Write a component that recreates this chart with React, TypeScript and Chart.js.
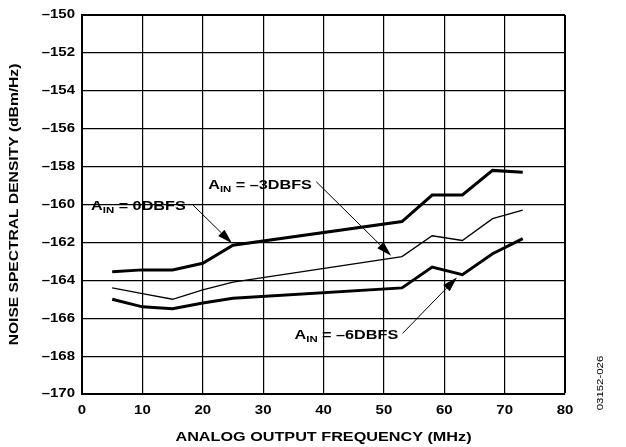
import React, { useEffect, useRef } from "react";
import { Chart, registerables } from "chart.js";

Chart.register(...registerables);

const freqMHz = [5, 10, 15, 20, 25, 53, 58, 63, 68, 73];
const nsd0dBFS = [-163.55, -163.45, -163.45, -163.1, -162.15, -160.9, -159.5, -159.5, -158.2, -158.3];
const nsd3dBFS = [-164.4, -164.7, -165.0, -164.5, -164.1, -162.75, -161.65, -161.9, -160.75, -160.3];
const nsd6dBFS = [-165.0, -165.4, -165.5, -165.2, -164.95, -164.4, -163.3, -163.7, -162.6, -161.8];

const xTitle = "ANALOG OUTPUT FREQUENCY (MHz)";
const yTitle = "NOISE SPECTRAL DENSITY (dBm/Hz)";
const figureId = "03152-026";

// annotation labels and their anchor/arrow positions in data units
const annLabels = ["= 0DBFS", "= \u20133DBFS", "= \u20136DBFS"];
const annTextX = [1.5, 20.9, 35.2];
const annTextY = [-160.05, -158.9, -166.85];
const annFromX = [18.3, 38.8, 53.1];
const annFromY = [-160.0, -158.8, -166.8];
const annToX = [24.85, 51.2, 62.1];
const annToY = [-162.05, -162.7, -163.85];

const FONT = "'Liberation Sans', Arial, Helvetica, sans-serif";
const TEXT_STRETCH = 1.2;

// widen glyphs along the text direction (the reference uses a wide bold face)
const stretchPlugin = {
  id: "stretchText",
  beforeDraw(chart: any) {
    const ctx = chart.ctx;
    if (ctx.__stretched) return;
    ctx.__stretched = true;
    const proto = CanvasRenderingContext2D.prototype;
    ctx.fillText = function (text: string, x: number, y: number, maxWidth?: number) {
      this.save();
      this.translate(x, y);
      this.scale(TEXT_STRETCH, 1);
      if (maxWidth === undefined) proto.fillText.call(this, text, 0, 0);
      else proto.fillText.call(this, text, 0, 0, maxWidth / TEXT_STRETCH);
      this.restore();
    };
  },
};

const annotationPlugin = {
  id: "annotations",
  afterDraw(chart: any) {
    const ctx = chart.ctx;
    const xs = chart.scales.x;
    const ys = chart.scales.y;
    ctx.save();
    ctx.fillStyle = "#000";
    ctx.strokeStyle = "#000";
    for (let i = 0; i < annLabels.length; i++) {
      const tx = xs.getPixelForValue(annTextX[i]);
      const ty = ys.getPixelForValue(annTextY[i]);
      ctx.textBaseline = "alphabetic";
      ctx.textAlign = "left";
      const base = ty + 5;
      ctx.font = `bold 13.5px ${FONT}`;
      ctx.fillText("A", tx, base);
      let w = ctx.measureText("A").width * TEXT_STRETCH;
      ctx.font = `bold 9.5px ${FONT}`;
      ctx.fillText("IN", tx + w, base + 3);
      w += ctx.measureText("IN").width * TEXT_STRETCH;
      ctx.font = `bold 13.5px ${FONT}`;
      ctx.fillText(" " + annLabels[i], tx + w, base);

      const x1 = xs.getPixelForValue(annFromX[i]);
      const y1 = ys.getPixelForValue(annFromY[i]);
      const x2 = xs.getPixelForValue(annToX[i]);
      const y2 = ys.getPixelForValue(annToY[i]);
      const ang = Math.atan2(y2 - y1, x2 - x1);
      const hl = 15;
      const hw = 4.5;
      const bx = x2 - hl * Math.cos(ang);
      const by = y2 - hl * Math.sin(ang);
      ctx.lineWidth = 1;
      ctx.beginPath();
      ctx.moveTo(x1, y1);
      ctx.lineTo(bx, by);
      ctx.stroke();
      ctx.beginPath();
      ctx.moveTo(x2, y2);
      ctx.lineTo(bx + hw * Math.sin(ang), by - hw * Math.cos(ang));
      ctx.lineTo(bx - hw * Math.sin(ang), by + hw * Math.cos(ang));
      ctx.closePath();
      ctx.fill();
    }
    // figure id, rotated
    ctx.font = `9.5px ${FONT}`;
    ctx.textAlign = "center";
    ctx.textBaseline = "middle";
    ctx.translate(600, 383);
    ctx.rotate(-Math.PI / 2);
    ctx.fillText(figureId, 0, 0);
    ctx.restore();
  },
};

export default function App() {
  const ref = useRef<HTMLCanvasElement>(null);
  useEffect(() => {
    document.body.style.margin = "0";
    const mk = (vals: number[]) => freqMHz.map((f, i) => ({ x: f, y: vals[i] }));
    const chart = new Chart(ref.current!, {
      type: "line",
      data: {
        datasets: [
          { data: mk(nsd0dBFS), borderColor: "#000", borderWidth: 3, pointRadius: 0, tension: 0, fill: false },
          { data: mk(nsd3dBFS), borderColor: "#000", borderWidth: 1.3, pointRadius: 0, tension: 0, fill: false },
          { data: mk(nsd6dBFS), borderColor: "#000", borderWidth: 3, pointRadius: 0, tension: 0, fill: false },
        ],
      },
      options: {
        animation: false,
        responsive: false,
        devicePixelRatio: 1,
        layout: { padding: { left: 0, top: 15, right: 61, bottom: 0 } },
        plugins: { legend: { display: false }, tooltip: { enabled: false } },
        scales: {
          x: {
            type: "linear",
            min: 0,
            max: 80,
            afterFit: (s: any) => {
              s.height = 53;
              s.paddingLeft = 0;
              s.paddingRight = 0;
            },
            ticks: { stepSize: 10, color: "#000", padding: 9, font: { family: FONT, size: 12.5, weight: "bold" } },
            grid: {
              color: "#000",
              drawTicks: false,
              lineWidth: (c: any) => (c.tick && c.tick.value === 80 ? 2 : 1.2),
            },
            border: { color: "#000", width: 2 },
            title: {
              display: true,
              text: xTitle,
              color: "#000",
              font: { family: FONT, size: 13.5, weight: "bold" },
              padding: { top: 0, bottom: 2 },
            },
          },
          y: {
            min: -170,
            max: -150,
            afterFit: (s: any) => {
              s.width = 82;
              s.paddingTop = 0;
              s.paddingBottom = 0;
            },
            ticks: {
              stepSize: 2,
              color: "#000",
              padding: 7,
              font: { family: FONT, size: 12.5, weight: "bold" },
              callback: (v: any) => String(v).replace("-", "\u2013"),
            },
            grid: {
              color: "#000",
              drawTicks: false,
              lineWidth: (c: any) => (c.tick && c.tick.value === -150 ? 2 : 1.2),
            },
            border: { color: "#000", width: 2 },
            title: {
              display: true,
              text: yTitle,
              color: "#000",
              font: { family: FONT, size: 13, weight: "bold" },
              padding: { top: 7, bottom: 0 },
            },
          },
        },
      },
      plugins: [stretchPlugin, annotationPlugin],
    });
    return () => chart.destroy();
  }, []);
  return (
    <div style={{ width: 626, height: 447 }}>
      <canvas ref={ref} width={626} height={447} style={{ width: 626, height: 447, display: "block" }} />
    </div>
  );
}
